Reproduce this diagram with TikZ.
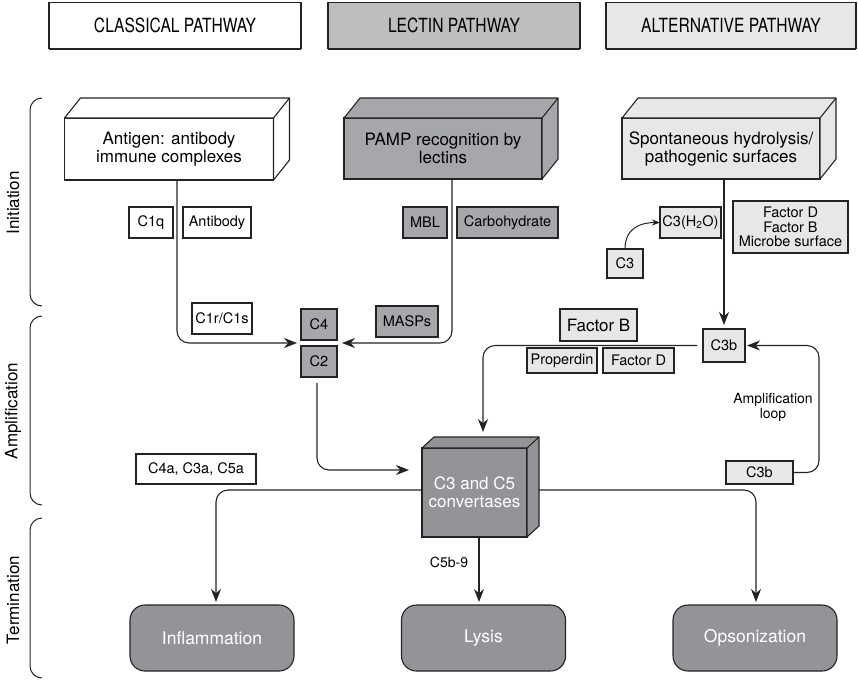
\documentclass[tikz,border=0pt]{standalone}
\usepackage{fontspec}
\setmainfont{TeX Gyre Heros}
\newfontfamily\condfont[FakeStretch=0.8]{TeX Gyre Heros}
\usetikzlibrary{arrows.meta}
\definecolor{linec}{RGB}{35,35,35}
\definecolor{lecthead}{RGB}{190,190,192}
\definecolor{lect}{RGB}{166,167,170}
\definecolor{altc}{RGB}{230,231,232}
\definecolor{darkc}{RGB}{147,148,152}
\newcommand\boxfaces[4]{%
  \filldraw[draw=linec,line width=1.1pt,line join=round,fill=#4]
    (#1.north west) -- ++(#2,#3) -- ([shift={(#2,#3)}]#1.north east)
    -- ([shift={(#2,#3)}]#1.south east) -- (#1.south east) -- (#1.north east) -- cycle;
  \draw[draw=linec,line width=1.1pt] (#1.north east) -- ++(#2,#3);
}
\begin{document}
\begin{tikzpicture}[x=1pt,y=-1pt,
  box/.style={draw=linec, line width=1.1pt, inner sep=0pt, outer sep=0pt, align=center, font=\fontsize{14.5}{14.5}\selectfont},
  head/.style={box, minimum height=46pt, font=\condfont\fontsize{19.5}{20}\selectfont},
  big/.style={box, font=\fontsize{17}{18}\selectfont},
  endbox/.style={draw=linec, line width=1.1pt, fill=darkc, rounded corners=15pt, text=white, font=\fontsize{17.5}{18}\selectfont, minimum width=164pt, minimum height=66pt, inner sep=0pt, outer sep=0pt},
  conn/.style={draw=linec, line width=1.1pt, rounded corners=12pt},
  arr/.style={conn, -{Stealth[length=13pt,width=10pt]}},
  brace/.style={draw=linec, line width=1pt, rounded corners=12pt},
  side/.style={rotate=90, font=\fontsize{17}{18}\selectfont},
  shadowline/.style={draw=linec, line width=2.2pt}
]
\useasboundingbox (0,0) rectangle (858,681);

% headers
\node[head, fill=white, minimum width=252pt] (hcl) at (175,25.5) {CLASSICAL PATHWAY};
\node[head, fill=lecthead, minimum width=252pt] (hle) at (454,25.5) {LECTIN PATHWAY};
\node[head, fill=altc, minimum width=250pt] (hal) at (731,25.5) {ALTERNATIVE PATHWAY};
\draw[shadowline] ([yshift=-0.6pt]hcl.south west) -- ([yshift=-0.6pt]hcl.south east);
\draw[shadowline] ([yshift=-0.6pt]hle.south west) -- ([yshift=-0.6pt]hle.south east);
\draw[shadowline] ([yshift=-0.6pt]hal.south west) -- ([yshift=-0.6pt]hal.south east);

% 3D boxes
\node[big, fill=white, minimum width=209pt, minimum height=62pt] (cl) at (169,149) {Antigen: antibody\\immune complexes};
\boxfaces{cl}{16}{-20}{white}
\node[big, fill=lect, minimum width=198pt, minimum height=61pt] (le) at (443,148.5) {PAMP recognition by\\lectins};
\boxfaces{le}{16}{-20}{lect}
\node[big, fill=altc, minimum width=198pt, minimum height=61pt] (al) at (721,148.5) {Spontaneous hydrolysis/\\pathogenic surfaces};
\boxfaces{al}{16}{-20}{altc}

% small boxes
\node[box, fill=white, minimum width=44pt, minimum height=31pt] (c1q) at (151,222.5) {C1q};
\node[box, fill=white, minimum width=68pt, minimum height=31pt] (ab) at (217,222.5) {Antibody};
\node[box, fill=lect, minimum width=44pt, minimum height=31pt] (mbl) at (425,222.5) {MBL};
\node[box, fill=lect, minimum width=101pt, minimum height=31pt] (carb) at (507.5,222.5) {Carbohydrate};
\node[box, fill=altc, minimum width=61pt, minimum height=31pt] (c3h) at (690.5,222.5) {C3(H\textsubscript{2}O)};
\node[box, fill=altc, minimum width=36pt, minimum height=29pt] (c3) at (625,263.5) {C3};
\node[box, fill=altc, minimum width=115pt, minimum height=52pt] (fdb) at (790.5,227) {Factor D\\Factor B\\Microbe surface};
\node[box, fill=white, minimum width=60pt, minimum height=31pt] (c1r) at (222,318.5) {C1r/C1s};
\node[box, fill=lect, minimum width=36pt, minimum height=31pt] (c4) at (319,324.5) {C4};
\node[box, fill=lect, minimum width=36pt, minimum height=31pt] (c2) at (319,361.5) {C2};
\node[box, fill=lect, minimum width=62pt, minimum height=31pt] (masp) at (407,321.5) {MASPs};
\node[box, fill=altc, minimum width=77pt, minimum height=32pt, font=\fontsize{17}{18}\selectfont] (fb) at (598.5,325) {Factor B};
\node[box, fill=altc, minimum width=42pt, minimum height=33pt] (c3b) at (724,345.5) {C3b};
\node[box, fill=altc, minimum width=70pt, minimum height=25pt] (prop) at (562,360.5) {Properdin};
\node[box, fill=altc, minimum width=71pt, minimum height=25pt] (fd) at (638.5,360.5) {Factor D};
\node[box, fill=altc, minimum width=67pt, minimum height=23pt] (c3bl) at (759.5,472.5) {C3b};
\node[box, fill=white, minimum width=120pt, minimum height=30pt] (c4a) at (196,469) {C4a, C3a, C5a};
\node[font=\fontsize{14}{15}\selectfont, align=center] (loop) at (773,407) {Amplification\\loop};
\node[font=\fontsize{14}{15}\selectfont] (c5b) at (449,562) {C5b-9};

% convertase cube
\node[big, fill=darkc, text=white, minimum width=105pt, minimum height=89pt] (conv) at (474.5,492.5) {C3 and C5\\convertases};
\boxfaces{conv}{12}{-11}{darkc}

% end boxes
\node[endbox] (inf) at (212,638) {Inflammation};
\node[endbox] (lys) at (483.5,638) {Lysis};
\node[endbox] (ops) at (755,638) {Opsonization};

% connectors
\draw[arr] ([xshift=8pt]cl.south) |- ([xshift=-4pt,yshift=-3pt]c4.south west);
\draw[arr] ([xshift=9pt]le.south) |- ([xshift=5pt,yshift=-3pt]c4.south east);
\draw[arr] ([xshift=-2pt,yshift=-6pt]c2.south) |- ([xshift=-13pt,yshift=22.5pt]conv.west);
\draw[arr] ([xshift=-6pt]c3b.west) -| ([xshift=8.5pt,yshift=16pt]conv.north);
\draw[arr] (c3b.north |- al.south) -- ([yshift=4pt]c3b.north);
\draw[arr] (c3bl.east) -- ++(26,0) |- ([xshift=2pt]c3b.east);
\draw[draw=linec, line width=1pt, -{Stealth[length=8pt,width=6pt]}] (c3.north) .. controls +(0,-22) and +(-18,0) .. (c3h.west);
\draw[arr] ([yshift=2.5pt]conv.west) -| ([xshift=4pt,yshift=3pt]inf.north);
\draw[arr] ([xshift=12pt,yshift=2.5pt]conv.east) -| ([xshift=1pt,yshift=3pt]ops.north);
\draw[arr] ([xshift=4.5pt]conv.south) -- ([xshift=-4.5pt,yshift=3pt]lys.north);

% braces and stage labels
\draw[brace] (42,98) -| (30,200) |- (42,306);
\draw[brace] (42,316) -| (30,410) |- (42,505);
\draw[brace] (42,518) -| (30,600) |- (42,678);
\node[side] (ini) at (13,203) {Initiation};
\node[side] (amp) at (13,411) {Amplification};
\node[side] (ter) at (13,600) {Termination};
\end{tikzpicture}
\end{document}
